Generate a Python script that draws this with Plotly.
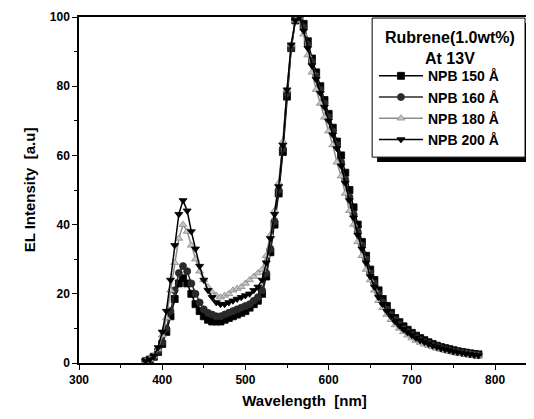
import plotly.graph_objects as go

# wavelength grid (nm)
wavelength = list(range(380, 785, 5))

npb150 = [0.5, 1, 1.8, 3.2, 5.5, 9, 13.5, 18.5, 23, 24.5, 23, 20, 17, 15, 13.5, 12.5, 12, 12, 12, 12.5,
          13, 13.5, 14, 14.5, 15, 16, 17, 18, 20, 25, 32, 40, 49, 61, 77, 91, 99, 100, 98, 93,
          88, 84, 80, 76, 72, 68, 64, 60, 55, 50, 45, 40, 35, 31, 27, 24, 21, 18.5, 16.5, 14.5,
          13, 11.8, 10.6, 9.6, 8.7, 7.9, 7.2, 6.6, 6, 5.5, 5, 4.6, 4.3, 4, 3.7, 3.4, 3.2, 3, 2.8, 2.6, 2.5]

npb160 = [0.5, 1, 1.8, 3.5, 6, 10, 15, 21, 26, 28, 26.5, 23, 20, 17.5, 15.5, 14.5, 14, 13.5, 13.5, 14,
          14.5, 15, 15.5, 16, 16.5, 17, 18, 19, 21, 26, 33, 41, 50, 62, 78, 91, 99, 100, 97, 92,
          87, 83, 79, 75, 71, 67, 63, 58, 53, 48, 43, 38, 34, 30, 26, 23, 20, 17.5, 15.5, 14,
          12.5, 11.2, 10, 9, 8.2, 7.4, 6.7, 6.1, 5.6, 5.1, 4.7, 4.3, 4, 3.7, 3.4, 3.2, 3, 2.8, 2.6, 2.4, 2.3]

npb180 = [0.5, 1, 2, 4, 8, 13, 21, 29, 36, 40, 38, 34, 30, 26.5, 24, 22, 20.5, 19.5, 19, 19.5,
          20, 21, 21.5, 22, 23, 24, 25, 26, 27, 31, 37, 44, 52, 64, 79, 92, 99, 100, 95, 89,
          84, 79, 75, 71, 67, 63, 58, 54, 49, 44, 40, 35, 31, 27, 24, 21, 18, 16, 14, 12.5,
          11, 10, 9, 8, 7.2, 6.5, 5.9, 5.4, 5, 4.6, 4.2, 3.9, 3.6, 3.3, 3.1, 2.9, 2.7, 2.5, 2.3, 2.2, 2]

npb200 = [0.5, 1, 2, 4.5, 9, 15, 24, 34, 43, 47, 44, 38, 33, 28, 24, 21, 19, 17.5, 17, 17,
          17.5, 18, 18.5, 19, 19.5, 20, 21, 22, 24, 29, 36, 43, 51, 63, 79, 92, 99, 100, 96, 91,
          86, 82, 78, 74, 70, 66, 62, 57, 52, 47, 42, 37, 33, 29, 25, 22, 19, 17, 15, 13.5,
          12, 10.8, 9.7, 8.8, 8, 7.2, 6.5, 6, 5.5, 5, 4.6, 4.2, 3.9, 3.6, 3.3, 3.1, 2.9, 2.7, 2.5, 2.3, 2.2]

names = ["NPB 150 Å", "NPB 160 Å", "NPB 180 Å", "NPB 200 Å"]
series = [npb150, npb160, npb180, npb200]
symbols = ["square", "circle", "triangle-up", "triangle-down"]
colors = ["black", "#2a2a2a", "#c4c4c4", "black"]
edges = ["black", "#2a2a2a", "#8c8c8c", "black"]

font = "Liberation Sans, Arial, sans-serif"

fig = go.Figure()
for name, ys, sym, col, edge in zip(names, series, symbols, colors, edges):
    fig.add_trace(go.Scatter(
        x=wavelength, y=ys, name=name, mode="lines+markers",
        line=dict(color=edge, width=1.5),
        marker=dict(symbol=sym, size=7, color=col,
                    line=dict(color=edge, width=0.8)),
    ))

# legend frame + drop shadow, Origin style
fig.add_shape(type="rect", xref="paper", yref="paper",
              x0=0.661, x1=1.0, y0=0.581, y1=0.983,
              fillcolor="black", line=dict(width=0), layer="above")
fig.add_shape(type="rect", xref="paper", yref="paper",
              x0=0.650, x1=0.989, y0=0.595, y1=0.997,
              fillcolor="white", line=dict(color="black", width=1), layer="above")

fig.add_annotation(text="Rubrene(1.0wt%)<br>At 13V", xref="paper", yref="paper",
                   x=0.823, y=0.910, xanchor="center", yanchor="middle",
                   showarrow=False, align="center",
                   font=dict(size=16, weight="bold"))

fig.update_layout(
    width=534, height=419,
    margin=dict(l=71, r=12, t=9, b=64),
    paper_bgcolor="white", plot_bgcolor="white",
    font=dict(family=font, size=12, color="black", weight="bold"),
    showlegend=True,
    legend=dict(
        x=0.654, y=0.875, xanchor="left", yanchor="top",
        bgcolor="rgba(0,0,0,0)", borderwidth=0,
        font=dict(size=14, weight="bold"),
        itemwidth=44,
    ),
    xaxis=dict(
        range=[300, 842], showgrid=False, zeroline=False, automargin=False,
        showline=True, linecolor="black", linewidth=1.5, mirror=True,
        ticks="outside", ticklen=5, tickwidth=1.2, tickcolor="black",
        tickvals=[300, 400, 500, 600, 700, 800],
        minor=dict(ticks="outside", ticklen=3, dtick=50, tickcolor="black"),
        title=dict(text="Wavelength \u00a0[nm]", font=dict(size=15, weight="bold"), standoff=9),
    ),
    yaxis=dict(
        range=[0, 100], showgrid=False, zeroline=False, automargin=False,
        showline=True, linecolor="black", linewidth=1.5, mirror=True,
        ticks="outside", ticklen=5, tickwidth=1.2, tickcolor="black",
        tickvals=[0, 20, 40, 60, 80, 100],
        minor=dict(ticks="outside", ticklen=3, dtick=10, tickcolor="black"),
        title=dict(text="EL Intensity \u00a0[a.u]", font=dict(size=15, weight="bold"), standoff=11),
    ),
)

fig.write_html("out.html")
